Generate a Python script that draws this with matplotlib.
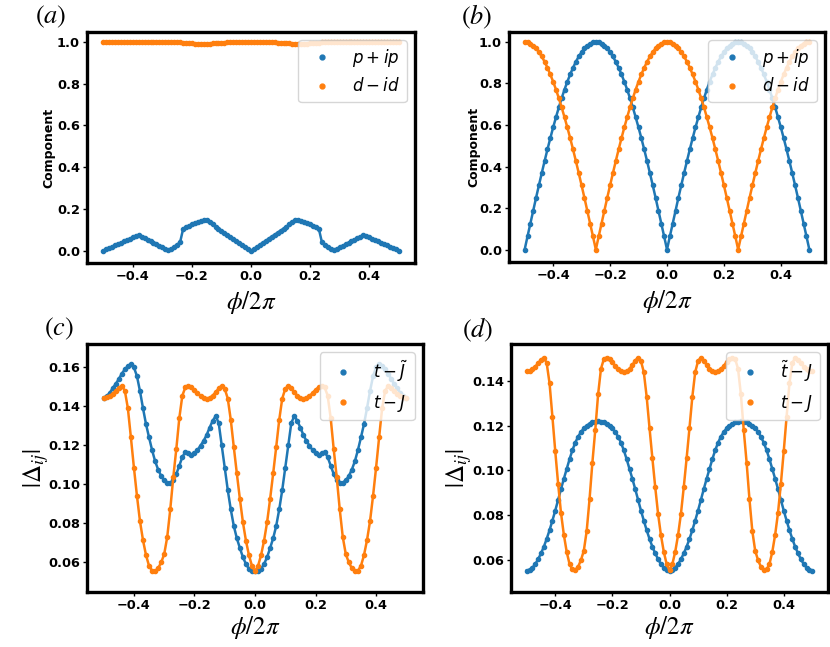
import numpy as np
import matplotlib
matplotlib.use("Agg")
import matplotlib.pyplot as plt
from matplotlib.lines import Line2D

# sampling grid phi/2pi, step 0.01
x = np.round(np.linspace(-0.5, 0.5, 101), 2)

# all curves are even in phi: values read for phi/2pi = -0.50 ... 0.00
# (a) components
a_pip = [0.000, 0.007, 0.013, 0.019, 0.026, 0.032, 0.039, 0.045, 0.052, 0.058,
         0.065, 0.071, 0.074, 0.067, 0.060, 0.053, 0.046, 0.039, 0.031, 0.024,
         0.017, 0.010, 0.002, 0.009, 0.019, 0.030, 0.041, 0.103, 0.113, 0.120,
         0.127, 0.133, 0.138, 0.142, 0.146, 0.147, 0.137, 0.127, 0.116, 0.106,
         0.097, 0.087, 0.077, 0.068, 0.058, 0.048, 0.039, 0.029, 0.019, 0.010,
         0.000]
a_did = [1.000, 1.000, 1.000, 1.000, 1.000, 0.999, 0.999, 0.999, 0.999, 0.998,
         0.998, 0.997, 0.997, 0.998, 0.998, 0.999, 0.999, 0.999, 1.000, 1.000,
         1.000, 1.000, 1.000, 1.000, 1.000, 1.000, 0.999, 0.995, 0.994, 0.993,
         0.992, 0.991, 0.990, 0.990, 0.989, 0.989, 0.991, 0.992, 0.993, 0.994,
         0.995, 0.996, 0.997, 0.998, 0.998, 0.999, 0.999, 1.000, 1.000, 1.000,
         1.000]

# (b) components
b_pip = [0.000, 0.063, 0.125, 0.187, 0.249, 0.309, 0.368, 0.426, 0.482, 0.536,
         0.588, 0.637, 0.685, 0.729, 0.771, 0.809, 0.844, 0.876, 0.905, 0.930,
         0.951, 0.969, 0.982, 0.992, 0.998, 1.000, 0.998, 0.992, 0.982, 0.969,
         0.951, 0.930, 0.905, 0.876, 0.844, 0.809, 0.771, 0.729, 0.685, 0.637,
         0.588, 0.536, 0.482, 0.426, 0.368, 0.309, 0.249, 0.187, 0.125, 0.063,
         0.000]
b_did = [1.000, 0.998, 0.992, 0.982, 0.969, 0.951, 0.930, 0.905, 0.876, 0.844,
         0.809, 0.771, 0.729, 0.685, 0.637, 0.588, 0.536, 0.482, 0.426, 0.368,
         0.309, 0.249, 0.187, 0.125, 0.063, 0.000, 0.063, 0.125, 0.187, 0.249,
         0.309, 0.368, 0.426, 0.482, 0.536, 0.588, 0.637, 0.685, 0.729, 0.771,
         0.809, 0.844, 0.876, 0.905, 0.930, 0.951, 0.969, 0.982, 0.992, 0.998,
         1.000]

# (c),(d) gap amplitudes
c_tJtilde = [0.1444, 0.1452, 0.1468, 0.1494, 0.1515, 0.1540, 0.1568, 0.1590, 0.1606, 0.1615,
             0.1600, 0.1555, 0.1478, 0.1390, 0.1308, 0.1240, 0.1175, 0.1118, 0.1075, 0.1042,
             0.1020, 0.1008, 0.1006, 0.1020, 0.1052, 0.1095, 0.1140, 0.1165, 0.1158, 0.1150,
             0.1158, 0.1175, 0.1198, 0.1222, 0.1252, 0.1290, 0.1325, 0.1350, 0.1315, 0.1200,
             0.1085, 0.0970, 0.0870, 0.0785, 0.0722, 0.0672, 0.0625, 0.0590, 0.0565, 0.0555,
             0.0552]
tJ = [0.1444, 0.1446, 0.1452, 0.1465, 0.1480, 0.1495, 0.1505, 0.1480, 0.1390, 0.1240,
      0.1085, 0.0940, 0.0810, 0.0712, 0.0635, 0.0580, 0.0556, 0.0553, 0.0568, 0.0598,
      0.0640, 0.0728, 0.0870, 0.1035, 0.1180, 0.1340, 0.1455, 0.1498, 0.1505, 0.1498,
      0.1485, 0.1468, 0.1453, 0.1443, 0.1440, 0.1443, 0.1455, 0.1472, 0.1492, 0.1505,
      0.1490, 0.1440, 0.1330, 0.1190, 0.1055, 0.0925, 0.0805, 0.0710, 0.0635, 0.0580,
      0.0552]
d_ttildeJ = [0.0551, 0.0555, 0.0564, 0.0580, 0.0602, 0.0628, 0.0658, 0.0693, 0.0732, 0.0775,
             0.0820, 0.0868, 0.0916, 0.0962, 0.1006, 0.1050, 0.1090, 0.1124, 0.1151, 0.1172,
             0.1188, 0.1200, 0.1209, 0.1215, 0.1218, 0.1219, 0.1218, 0.1215, 0.1209, 0.1200,
             0.1188, 0.1172, 0.1151, 0.1124, 0.1090, 0.1050, 0.1006, 0.0962, 0.0916, 0.0868,
             0.0820, 0.0775, 0.0732, 0.0693, 0.0658, 0.0628, 0.0602, 0.0580, 0.0564, 0.0555,
             0.0551]


def mirror(half):
    # values for phi/2pi > 0 are the same as for -phi/2pi
    return np.array(half + half[-2::-1])


blue = "#1f77b4"
orange = "#ff7f0e"

plt.rcParams["mathtext.fontset"] = "dejavusans"

fig = plt.figure(figsize=(8.3, 6.47), dpi=100)
W, H = 830.0, 647.0


def box(l, r, t, b):
    return [l / W, 1 - b / H, (r - l) / W, (b - t) / H]


panels = [
    dict(rect=box(87, 415, 32, 263), ys=(a_pip, a_did), labels=(r"$p+ip$", r"$d-id$"),
         ylim=(-0.058, 1.047), yticks=np.arange(0, 1.01, 0.2), ylabel="Component",
         tag="a", tagpos=(50.7, 17), ylc=-0.096, xlc=-0.112),
    dict(rect=box(509, 825, 32, 262), ys=(b_pip, b_did), labels=(r"$p+ip$", r"$d-id$"),
         ylim=(-0.060, 1.048), yticks=np.arange(0, 1.01, 0.2), ylabel="Component",
         tag="b", tagpos=(476.7, 17), ylc=-0.092, xlc=-0.112),
    dict(rect=box(87, 423, 344, 592), ys=(c_tJtilde, tJ), labels=(r"$t-\tilde{J}$", r"$t-J$"),
         ylim=(0.0446, 0.172), yticks=np.arange(0.06, 0.161, 0.02), ylabel=r"$|\Delta_{ij}|$",
         tag="c", tagpos=(59, 329), ylc=-0.106, xlc=-0.090),
    dict(rect=box(511, 828, 344, 592), ys=(d_ttildeJ, tJ), labels=(r"$\tilde{t}-J$", r"$t-J$"),
         ylim=(0.0455, 0.1566), yticks=np.arange(0.06, 0.141, 0.02), ylabel=r"$|\Delta_{ij}|$",
         tag="d", tagpos=(478, 330), ylc=-0.118, xlc=-0.090),
]

for p in panels:
    ax = fig.add_axes(p["rect"])
    for half, col in zip(p["ys"], (blue, orange)):
        ax.plot(x, mirror(half), "-o", color=col, lw=1.8, ms=3.0)
    ax.set_xlim(-0.555, 0.555)
    ax.set_ylim(*p["ylim"])
    ax.set_xticks([-0.4, -0.2, 0.0, 0.2, 0.4])
    ax.set_yticks(p["yticks"])
    for lab in ax.get_xticklabels() + ax.get_yticklabels():
        lab.set_fontweight("bold")
        lab.set_fontsize(9.3)
    for s in ax.spines.values():
        s.set_linewidth(2.4)
    ax.tick_params(width=1, length=3, pad=2)

    ax.set_xlabel(r"$\phi/2\pi$", fontsize=18, math_fontfamily="stix")
    ax.xaxis.set_label_coords(0.5, p["xlc"])
    if p["ylabel"] == "Component":
        ax.set_ylabel("Component", fontsize=9, fontweight="bold")
    else:
        ax.set_ylabel(p["ylabel"], fontsize=18, math_fontfamily="stix")
    ax.yaxis.set_label_coords(p["ylc"], 0.5)

    handles = [Line2D([], [], ls="none", marker="o", ms=3.5, color=c) for c in (blue, orange)]
    ax.legend(handles, p["labels"], loc="upper right", fontsize=12)

    fig.text(p["tagpos"][0] / W, 1 - p["tagpos"][1] / H, "$(" + p["tag"] + ")$",
             fontsize=19, math_fontfamily="stix", ha="center", va="center")

fig.savefig("out.png", dpi=100)
